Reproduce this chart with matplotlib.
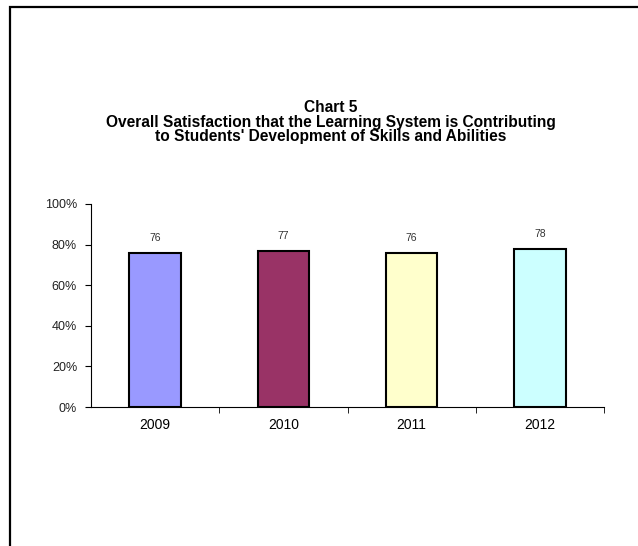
import numpy as np
import matplotlib.pyplot as plt
from matplotlib.patches import Rectangle
from matplotlib.ticker import FuncFormatter

# Data
years = ["2009", "2010", "2011", "2012"]
values = [76, 77, 76, 78]
colors = ["#9999FF", "#993366", "#FFFFCC", "#CCFFFF"]
title = ("Chart 5\nOverall Satisfaction that the Learning System is Contributing\n"
         "to Students' Development of Skills and Abilities")

plt.rcParams['font.family'] = ['Liberation Sans', 'DejaVu Sans']

fig = plt.figure(figsize=(6.38, 5.46), dpi=100)

# outer frame (only top and left visible)
fig.patches.append(Rectangle((10 / 638, -0.1), 1.2, 1 - 7 / 546 + 0.1,
                             transform=fig.transFigure, fill=False,
                             edgecolor='black', linewidth=1.6))

ax = fig.add_axes([91 / 638, 139 / 546, 513 / 638, 203 / 546])
x = np.arange(len(years))
ax.bar(x, values, width=0.4, color=colors, edgecolor='black', linewidth=1.5)

for xi, v in zip(x, values):
    ax.text(xi, v + 5, str(v), ha='center', va='bottom', fontsize=7.5,
            color='#333333', family=['Liberation Sans Narrow', 'Liberation Sans'])

ax.set_xlim(-0.5, len(years) - 0.5)
ax.set_ylim(0, 100)
ax.set_yticks(np.arange(0, 101, 20))
ax.yaxis.set_major_formatter(FuncFormatter(lambda v, p: f"{int(v)}%"))
ax.set_xticks(x)
ax.set_xticklabels(years)
ax.set_xticks(np.arange(0.5, len(years) - 0.5 + 0.01, 1), minor=True)
ax.tick_params(axis='x', which='major', length=0, labelsize=10, pad=8)
ax.tick_params(axis='x', which='minor', length=4, direction='out')
ax.tick_params(axis='y', length=4, direction='out', labelsize=9, pad=6,
               labelcolor='#222222')

ax.spines['top'].set_visible(False)
ax.spines['right'].set_visible(False)
ax.spines['left'].set_linewidth(0.8)
ax.spines['bottom'].set_linewidth(0.8)

fig.text(331 / 638, 1 - 100 / 546, title, ha='center', va='top', fontsize=11.2,
         fontweight='bold', linespacing=0.97)

fig.savefig("out.png", dpi=100)
